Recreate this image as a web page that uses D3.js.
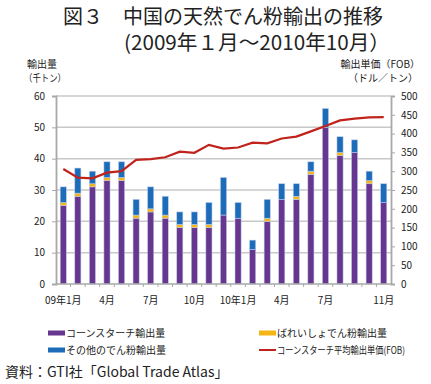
<!DOCTYPE html>
<html><head><meta charset="utf-8">
<script src="https://cdn.jsdelivr.net/npm/d3@7"></script>
<style>body{margin:0;background:#fff}svg{display:block}text{font-family:"Noto Sans CJK JP","Noto Sans",sans-serif}</style>
</head><body><svg id="c" width="431" height="384"></svg>
<script>
const categories = ["09年1月","2月","3月","4月","5月","6月","7月","8月","9月","10月","11月","12月",
  "10年1月","2月","3月","4月","5月","6月","7月","8月","9月","10月","11月"];
const shownTicks = ["09年1月","4月","7月","10月","10年1月","4月","7月","11月"];
const shownIdx = [0,3,6,9,12,15,18,22];
const cornStarch = [25,28,31,33,33,21,23,21,18,18,18,22,21,11,20,27,27,35,50,41,42,32,26];
const potatoStarch = [1,1,1,1,1,1,1,1,1,1,1,0,0,0,1,0,1,1,0,1,0,1,0];
const otherStarch = [5,8,4,5,5,5,7,6,4,4,7,12,5,3,6,5,4,3,6,5,4,3,6];
const cornPrice = [306,283,281,296,300,330,332,337,352,349,370,360,363,376,374,387,392,406,420,435,440,443,444];
const leftTicks = [0,10,20,30,40,50,60];
const rightTicks = [0,50,100,150,200,250,300,350,400,450,500];
const seriesNames = ["コーンスターチ輸出量","ばれいしょでん粉輸出量","その他のでん粉輸出量","コーンスターチ平均輸出単価(FOB)"];
const colors = ["#67368f","#f5b517","#1c6cb9","#c0231c"];

const svg = d3.select("#c");
const X0 = 56, X1 = 391, YT = 96, YB = 284;
const x = d3.scaleBand().domain(d3.range(categories.length)).range([X0, X1]).paddingInner(0.58).paddingOuter(0.29);
const yL = d3.scaleLinear().domain([0,60]).range([YB, YT]);
const yR = d3.scaleLinear().domain([0,500]).range([YB, YT]);

// title (one text block, two lines)
const title = svg.append("text").attr("font-size",20).attr("fill","#222");
title.append("tspan").attr("x",63).attr("y",24).text("図３　中国の天然でん粉輸出の推移");
title.append("tspan").attr("x",124).attr("y",50)
  .attr("textLength",266).attr("lengthAdjust","spacingAndGlyphs").text("(2009年１月～2010年10月）");

// axis titles
svg.append("text").attr("x",27).attr("y",68).attr("font-size",10).attr("fill","#222").text("輸出量");
svg.append("text").attr("x",24).attr("y",82).attr("font-size",10).attr("fill","#222")
  .attr("textLength",42).attr("lengthAdjust","spacingAndGlyphs").text("（千トン）");
svg.append("text").attr("x",420).attr("y",68).attr("font-size",10).attr("text-anchor","end").attr("fill","#222").text("輸出単価（FOB）");
svg.append("text").attr("x",418).attr("y",82).attr("font-size",10).attr("text-anchor","end").attr("fill","#222").text("（ドル／トン）");

// gridlines
svg.append("g").selectAll("line").data(leftTicks.filter(d=>d>0)).join("line")
  .attr("x1",X0).attr("x2",X1).attr("y1",d=>yL(d)).attr("y2",d=>yL(d))
  .attr("stroke","#c8c8c8").attr("stroke-width",1.5);

// bars
const stackData = categories.map((c,i)=>({i, corn:cornStarch[i], potato:potatoStarch[i], other:otherStarch[i]}));
const stack = d3.stack().keys(["corn","potato","other"])(stackData);
svg.append("g").selectAll("g").data(stack).join("g").attr("fill",(d,k)=>colors[k])
  .selectAll("rect").data(d=>d.filter(s=>s[1]-s[0]>0)).join("rect")
  .attr("x",d=>x(d.data.i)).attr("width",x.bandwidth())
  .attr("y",d=>yL(d[1])).attr("height",d=>yL(d[0])-yL(d[1]))
  .attr("stroke","rgba(190,205,235,0.9)").attr("stroke-width",0.6);

// axes
const axL = svg.append("g").attr("transform",`translate(${X0},0)`)
  .call(d3.axisLeft(yL).tickValues(leftTicks).tickSize(4).tickPadding(7));
const axR = svg.append("g").attr("transform",`translate(${X1},0)`)
  .call(d3.axisRight(yR).tickValues(rightTicks).tickSize(4).tickPadding(6));
[axL,axR].forEach(a=>{
  a.select(".domain").attr("stroke","#a8a8a8").attr("stroke-width",1.8);
  a.selectAll(".tick line").attr("stroke","#a8a8a8");
  a.selectAll("text").attr("font-family","DejaVu Sans").attr("font-size",10).attr("fill","#222");
});
const axB = svg.append("g").attr("transform",`translate(0,${YB})`);
axB.append("line").attr("x1",X0).attr("x2",X1).attr("stroke","#a8a8a8").attr("stroke-width",1.5);
axB.selectAll(".bt").data(d3.range(1,categories.length)).join("line").attr("class","bt")
  .attr("x1",d=>X0+x.step()*d).attr("x2",d=>X0+x.step()*d).attr("y1",0).attr("y2",3)
  .attr("stroke","#a8a8a8");
axB.selectAll(".lbl").data(shownIdx).join("text").attr("class","lbl")
  .attr("x",(d)=>x(d)+x.bandwidth()/2).attr("y",20).attr("text-anchor","middle")
  .attr("font-size",10).attr("fill","#222").text((d,k)=>shownTicks[k]);

// line
svg.append("path").datum(cornPrice).attr("fill","none").attr("stroke",colors[3]).attr("stroke-width",2.2)
  .attr("d",d3.line().x((d,i)=>x(i)+x.bandwidth()/2).y(d=>yR(d)));

// legend
const leg = [
  {k:0,x:48,y:333,type:"rect"},
  {k:1,x:259,y:333,type:"rect"},
  {k:2,x:48,y:350,type:"rect"},
  {k:3,x:259,y:350,type:"line"}
];
const lg = svg.append("g");
leg.forEach(l=>{
  if(l.type==="rect") lg.append("rect").attr("x",l.x).attr("y",l.y-2.5).attr("width",17).attr("height",5).attr("fill",colors[l.k]);
  else lg.append("line").attr("x1",l.x).attr("x2",l.x+17).attr("y1",l.y).attr("y2",l.y).attr("stroke",colors[l.k]).attr("stroke-width",2);
  const t = lg.append("text").attr("x",l.x+18).attr("y",l.y+3.5).attr("font-size",10).attr("fill","#222").text(seriesNames[l.k]);
  if(l.k===3) t.attr("textLength",128).attr("lengthAdjust","spacingAndGlyphs");
});

// source
svg.append("text").attr("x",5).attr("y",377).attr("font-size",14).attr("fill","#222").text("資料：GTI社「Global Trade Atlas」");
</script></body></html>
